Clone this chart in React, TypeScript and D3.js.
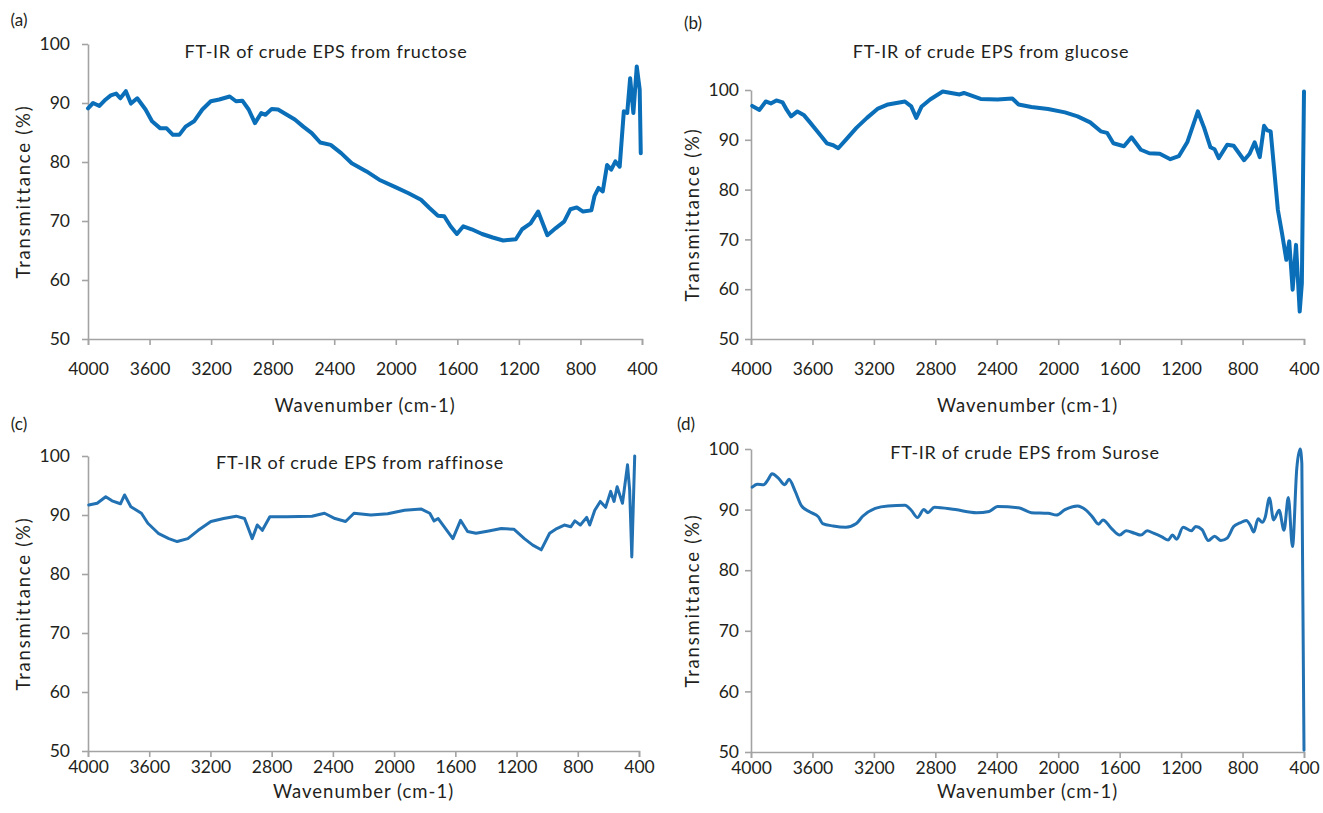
import { useEffect, useRef } from "react";
import * as d3 from "d3";

// wavenumber (cm-1) / transmittance (%) pairs
const fructoseWn = [4000, 3967, 3926, 3885, 3852, 3817, 3790, 3754, 3721, 3680, 3626, 3584, 3530, 3489, 3448, 3407, 3366, 3311, 3257, 3202, 3147, 3079, 3038, 2997, 2956, 2915, 2874, 2847, 2806, 2765, 2656, 2601, 2546, 2491, 2423, 2355, 2286, 2190, 2108, 1999, 1917, 1836, 1781, 1726, 1685, 1644, 1603, 1561, 1507, 1439, 1370, 1302, 1220, 1179, 1124, 1075, 1015, 960, 906, 865, 824, 783, 729, 709, 682, 655, 627, 600, 573, 545, 518, 496, 477, 456, 434, 415, 408];
const fructoseT = [89.1, 90.0, 89.5, 90.6, 91.3, 91.6, 90.8, 92.0, 89.9, 90.8, 88.9, 86.9, 85.7, 85.7, 84.6, 84.6, 86.0, 86.9, 88.9, 90.3, 90.6, 91.1, 90.3, 90.4, 88.9, 86.6, 88.3, 88.0, 89.0, 88.9, 87.2, 86.0, 84.9, 83.3, 82.9, 81.5, 79.8, 78.4, 77.0, 75.7, 74.7, 73.6, 72.2, 70.9, 70.8, 69.1, 67.8, 69.1, 68.6, 67.8, 67.2, 66.7, 66.9, 68.6, 69.6, 71.6, 67.6, 68.8, 69.9, 72.0, 72.3, 71.6, 71.8, 74.2, 75.6, 75.0, 79.5, 78.7, 80.1, 79.2, 88.6, 88.3, 94.2, 88.3, 96.2, 92.3, 81.5];

const glucoseWn = [3992, 3945, 3904, 3871, 3835, 3794, 3767, 3739, 3698, 3657, 3616, 3561, 3506, 3465, 3432, 3383, 3314, 3245, 3177, 3108, 2998, 2957, 2924, 2889, 2834, 2752, 2697, 2642, 2614, 2505, 2395, 2299, 2258, 2175, 2066, 1956, 1874, 1792, 1723, 1682, 1641, 1572, 1523, 1462, 1407, 1339, 1270, 1215, 1160, 1091, 1050, 1009, 982, 955, 900, 858, 790, 754, 721, 688, 660, 639, 617, 570, 543, 515, 496, 474, 452, 428, 414, 400];
const glucoseT = [96.8, 96.0, 97.7, 97.3, 97.9, 97.5, 96.0, 94.7, 95.7, 95.0, 93.5, 91.4, 89.3, 88.9, 88.3, 90.0, 92.4, 94.4, 96.2, 97.1, 97.7, 96.7, 94.4, 96.7, 98.1, 99.7, 99.4, 99.1, 99.4, 98.2, 98.1, 98.3, 97.1, 96.6, 96.2, 95.5, 94.7, 93.5, 91.7, 91.4, 89.3, 88.7, 90.5, 88.0, 87.3, 87.2, 86.1, 86.7, 89.5, 95.7, 92.4, 88.5, 88.1, 86.3, 89.0, 88.8, 85.9, 87.2, 89.5, 86.5, 92.8, 91.9, 91.7, 75.9, 71.2, 65.9, 69.6, 59.9, 68.9, 55.5, 61.2, 99.7];

const raffinoseWn = [3995, 3940, 3884, 3843, 3788, 3761, 3720, 3651, 3609, 3541, 3472, 3417, 3348, 3280, 3197, 3114, 3032, 2977, 2927, 2894, 2861, 2812, 2702, 2537, 2455, 2386, 2317, 2262, 2152, 2042, 1932, 1822, 1767, 1739, 1712, 1616, 1566, 1520, 1465, 1382, 1300, 1218, 1149, 1094, 1039, 984, 937, 888, 846, 819, 783, 742, 722, 689, 653, 618, 585, 563, 543, 508, 475, 461, 447, 428];
const raffinoseT = [91.7, 92.0, 93.1, 92.4, 91.9, 93.4, 91.4, 90.3, 88.6, 86.9, 86.0, 85.5, 86.0, 87.4, 88.9, 89.4, 89.8, 89.4, 86.0, 88.3, 87.4, 89.7, 89.7, 89.8, 90.3, 89.4, 88.9, 90.3, 90.0, 90.2, 90.8, 91.0, 90.3, 89.0, 89.4, 86.0, 89.1, 87.2, 86.9, 87.3, 87.7, 87.6, 86.0, 84.9, 84.1, 86.9, 87.7, 88.3, 88.0, 89.0, 88.3, 89.6, 88.3, 90.8, 92.3, 91.3, 94.0, 92.3, 94.8, 92.0, 98.5, 94.2, 82.9, 100];

const suroseWn = [3992, 3959, 3918, 3890, 3863, 3822, 3780, 3753, 3712, 3671, 3616, 3561, 3534, 3465, 3383, 3314, 3273, 3191, 3108, 2998, 2957, 2916, 2875, 2848, 2806, 2669, 2532, 2450, 2395, 2258, 2175, 2066, 2011, 1956, 1874, 1819, 1778, 1737, 1709, 1654, 1600, 1558, 1503, 1462, 1421, 1380, 1325, 1284, 1256, 1229, 1187, 1133, 1105, 1064, 1023, 982, 941, 900, 858, 817, 776, 749, 727, 699, 672, 653, 625, 598, 562, 530, 502, 475, 447, 425, 414, 400];
const suroseT = [93.7, 94.2, 94.1, 94.9, 95.9, 95.2, 94.1, 95.0, 93.0, 90.6, 89.6, 88.8, 87.7, 87.3, 87.1, 87.7, 88.9, 90.2, 90.6, 90.7, 89.9, 88.7, 90.0, 89.5, 90.4, 90.0, 89.5, 89.7, 90.5, 90.3, 89.5, 89.4, 89.1, 90.0, 90.6, 89.9, 88.8, 87.6, 88.3, 86.9, 85.8, 86.5, 86.1, 85.8, 86.5, 86.1, 85.5, 85.0, 85.8, 85.1, 87.1, 86.5, 87.2, 86.7, 84.9, 85.6, 84.9, 85.3, 87.2, 87.8, 88.2, 87.4, 86.3, 88.5, 87.9, 88.7, 91.9, 88.3, 89.9, 86.6, 92.0, 83.9, 96.8, 100, 97.6, 50.3];

const xTicks = [4000, 3600, 3200, 2800, 2400, 2000, 1600, 1200, 800, 400];
const yTicks = [50, 60, 70, 80, 90, 100];

const FONT = "Lato, 'Open Sans', sans-serif";
const INK = "#231f20";

type PanelProps = {
    tag: string;
    title: string;
    wn: number[];
    t: number[];
    box: { x0: number; x1: number; yTop: number; yBot: number };
    titlePos: [number, number];
    tagPos: [number, number];
    yTitleX: number;
    yLabelGap: number;
    xLabelGap: number;
    xTitleY: number;
    color: string;
    lineWidth: number;
    smooth: boolean;
};

function Panel(props: PanelProps) {
    const ref = useRef<SVGGElement>(null);
    const { tag, title, wn, t, box, titlePos, tagPos, yTitleX, yLabelGap, xLabelGap, xTitleY, color, lineWidth, smooth } = props;

    useEffect(() => {
        const g = d3.select(ref.current);
        g.selectAll("*").remove();

        const x = d3.scaleLinear().domain([4000, 400]).range([box.x0, box.x1]);
        const y = d3.scaleLinear().domain([50, 100]).range([box.yBot, box.yTop]);

        // x axis
        const xg = g.append("g")
            .attr("transform", `translate(0,${box.yBot})`)
            .call(d3.axisBottom(x).tickValues(xTicks).tickSize(6).tickSizeOuter(6).tickPadding(xLabelGap).tickFormat(d3.format("d")));
        // y axis
        const yg = g.append("g")
            .attr("transform", `translate(${box.x0},0)`)
            .call(d3.axisLeft(y).tickValues(yTicks).tickSize(6).tickSizeOuter(0).tickPadding(yLabelGap));

        [xg, yg].forEach(a => {
            a.selectAll("path, line").attr("stroke", "#a3a3a3").attr("stroke-width", 1.6);
            a.selectAll("text").attr("fill", INK).attr("font-family", FONT).attr("font-size", 17.5);
        });

        const line = d3.line<number>()
            .x((_, i) => x(wn[i]))
            .y(d => y(d))
            .curve(smooth ? d3.curveMonotoneX : d3.curveLinear);

        g.append("path")
            .datum(t)
            .attr("d", line)
            .attr("fill", "none")
            .attr("stroke", color)
            .attr("stroke-width", lineWidth)
            .attr("stroke-linejoin", "round")
            .attr("stroke-linecap", "round");

        // titles
        g.append("text")
            .attr("x", titlePos[0]).attr("y", titlePos[1])
            .attr("text-anchor", "middle").attr("dominant-baseline", "middle")
            .attr("font-family", FONT).attr("font-size", 18).attr("letter-spacing", 0.7).attr("fill", INK)
            .text(title);

        g.append("text")
            .attr("x", tagPos[0]).attr("y", tagPos[1])
            .attr("text-anchor", "middle").attr("dominant-baseline", "middle")
            .attr("font-family", FONT).attr("font-size", 17).attr("fill", INK)
            .text(tag);

        g.append("text")
            .attr("transform", `translate(${yTitleX},${(box.yTop + box.yBot) / 2}) rotate(-90)`)
            .attr("text-anchor", "middle").attr("dominant-baseline", "middle")
            .attr("font-family", FONT).attr("font-size", 18.5).attr("letter-spacing", 1.8).attr("fill", INK)
            .text("Transmittance (%)");

        g.append("text")
            .attr("x", (box.x0 + box.x1) / 2).attr("y", xTitleY)
            .attr("text-anchor", "middle").attr("dominant-baseline", "middle")
            .attr("font-family", FONT).attr("font-size", 18.5).attr("letter-spacing", 1).attr("fill", INK)
            .text("Wavenumber (cm-1)");
    }, [tag, title, wn, t, box, titlePos, tagPos, yTitleX, yLabelGap, xLabelGap, xTitleY, color, lineWidth, smooth]);

    return <g ref={ref} />;
}

export default function App() {
    return (
        <div style={{ position: "absolute", left: 0, top: 0 }}>
            <svg width={1323} height={813} style={{ display: "block", background: "#fff" }}>
                <Panel tag="(a)" title="FT-IR of crude EPS from fructose" wn={fructoseWn} t={fructoseT}
                    box={{ x0: 88, x1: 642, yTop: 44, yBot: 339 }} titlePos={[326, 53]} tagPos={[19, 22]}
                    yTitleX={25} yLabelGap={12} xLabelGap={18} xTitleY={407}
                    color="#0a6fb8" lineWidth={4} smooth={false} />
                <Panel tag="(b)" title="FT-IR of crude EPS from glucose" wn={glucoseWn} t={glucoseT}
                    box={{ x0: 751, x1: 1304, yTop: 90, yBot: 339 }} titlePos={[991, 53]} tagPos={[693, 25]}
                    yTitleX={694} yLabelGap={6} xLabelGap={18} xTitleY={407}
                    color="#0a6fb8" lineWidth={4} smooth={false} />
                <Panel tag="(c)" title="FT-IR of crude EPS from raffinose" wn={raffinoseWn} t={raffinoseT}
                    box={{ x0: 88, x1: 639, yTop: 456, yBot: 751 }} titlePos={[360, 464]} tagPos={[19, 426]}
                    yTitleX={25} yLabelGap={12} xLabelGap={4} xTitleY={793}
                    color="#2171b3" lineWidth={3} smooth={false} />
                <Panel tag="(d)" title="FT-IR of crude EPS from Surose" wn={suroseWn} t={suroseT}
                    box={{ x0: 751, x1: 1304, yTop: 449, yBot: 752 }} titlePos={[1025, 454]} tagPos={[686, 426]}
                    yTitleX={694} yLabelGap={6} xLabelGap={4} xTitleY={793}
                    color="#2171b3" lineWidth={3} smooth={true} />
            </svg>
        </div>
    );
}
